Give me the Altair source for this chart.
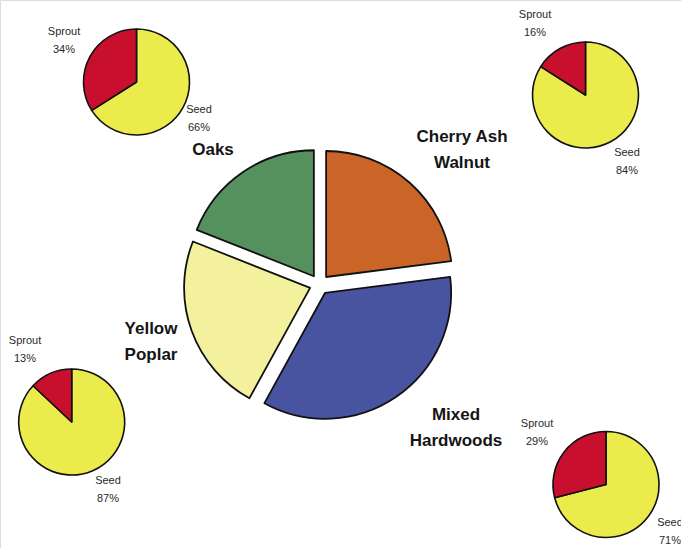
import math

import altair as alt
import pandas as pd

# Forest-type composition (share of stand area, %) and regeneration origin (%)
groups = ["Cherry Ash Walnut", "Mixed Hardwoods", "Yellow Poplar", "Oaks"]
group_share = [23, 35, 23, 19]
group_label_lines = [["Cherry Ash", "Walnut"], ["Mixed", "Hardwoods"], ["Yellow", "Poplar"], ["Oaks"]]
sprout_pct = [16, 29, 13, 34]
seed_pct = [84, 71, 87, 66]

# Styling
group_colors = ["#CB6427", "#4954A0", "#F4F19E", "#55905F"]
origin_colors = {"Seed": "#EBEB4C", "Sprout": "#C80F2E"}
FONT = "Liberation Sans"

# Layout (pixel positions within the 681x548 canvas)
W, H = 681, 548
main_center = (319.5, 284.5)
main_radius = 126
explode = 10
inset_radius = 53
inset_centers = [(585.5, 95), (606, 484.5), (71.7, 422), (136.5, 82)]
group_label_pos = [(462, 137), (456, 415), (151, 329), (213, 150)]
sprout_label_pos = [(535, 15), (537, 424), (25, 341), (64, 32)]
seed_label_pos = [(627, 153), (670, 523), (108, 481), (199, 110)]
big_line_gap = 26
small_line_gap = 18

# Central exploded pie: each slice is pushed out along its bisector
total = sum(group_share)
rows, acc = [], 0
for g, s in zip(groups, group_share):
    t0 = 2 * math.pi * acc / total
    acc += s
    t1 = 2 * math.pi * acc / total
    mid = (t0 + t1) / 2
    rows.append({
        "group": g, "share": s, "t0": t0, "t1": t1,
        "px": main_center[0] + explode * math.sin(mid),
        "py": main_center[1] - explode * math.cos(mid),
    })
main_df = pd.DataFrame(rows)

# Inset pies: sprout wedge sits counter-clockwise from twelve o'clock
inset_rows = []
for g, sp, sd, (cx, cy) in zip(groups, sprout_pct, seed_pct, inset_centers):
    split = 2 * math.pi * sd / (sp + sd)
    inset_rows.append({"group": g, "origin": "Seed", "pct": sd, "t0": 0.0, "t1": split, "px": cx, "py": cy})
    inset_rows.append({"group": g, "origin": "Sprout", "pct": sp, "t0": split, "t1": 2 * math.pi, "px": cx, "py": cy})
inset_df = pd.DataFrame(inset_rows)

# Text rows
big_text = []
for lines, (lx, ly) in zip(group_label_lines, group_label_pos):
    for i, line in enumerate(lines):
        big_text.append({"text": line, "px": lx, "py": ly + i * big_line_gap})
big_df = pd.DataFrame(big_text)

small_text = []
for sp, sd, (sx, sy), (dx, dy) in zip(sprout_pct, seed_pct, sprout_label_pos, seed_label_pos):
    small_text += [
        {"text": "Sprout", "px": sx, "py": sy},
        {"text": f"{sp}%", "px": sx, "py": sy + small_line_gap},
        {"text": "Seed", "px": dx, "py": dy},
        {"text": f"{sd}%", "px": dx, "py": dy + small_line_gap},
    ]
small_df = pd.DataFrame(small_text)

X = alt.X("px:Q", scale=None, axis=None)
Y = alt.Y("py:Q", scale=None, axis=None)

main_pie = alt.Chart(main_df).mark_arc(
    outerRadius=main_radius, stroke="#111111", strokeWidth=1.8, strokeJoin="round"
).encode(
    x=X, y=Y,
    theta=alt.Theta("t0:Q", scale=None, stack=False),
    theta2="t1:Q",
    color=alt.Color("group:N", scale=alt.Scale(domain=groups, range=group_colors), legend=None),
)

inset_pies = alt.Chart(inset_df).mark_arc(
    outerRadius=inset_radius, stroke="#111111", strokeWidth=1.6, strokeJoin="round"
).encode(
    x=X, y=Y,
    theta=alt.Theta("t0:Q", scale=None, stack=False),
    theta2="t1:Q",
    fill=alt.Fill("origin:N", scale=alt.Scale(domain=list(origin_colors), range=list(origin_colors.values())), legend=None),
)

big_labels = alt.Chart(big_df).mark_text(
    font=FONT, fontSize=17, fontWeight="bold", color="#151515", align="center", baseline="middle"
).encode(x=X, y=Y, text="text:N")

small_labels = alt.Chart(small_df).mark_text(
    font=FONT, fontSize=11, color="#2a2a2a", align="center", baseline="middle"
).encode(x=X, y=Y, text="text:N")

chart = alt.layer(main_pie, inset_pies, big_labels, small_labels).properties(
    width=W, height=H, autosize=alt.AutoSizeParams(type="none"), padding=0
).configure_view(stroke="transparent", strokeWidth=0).configure(background="white")

chart.save("out.html", embed_options={"renderer": "svg", "actions": False})
